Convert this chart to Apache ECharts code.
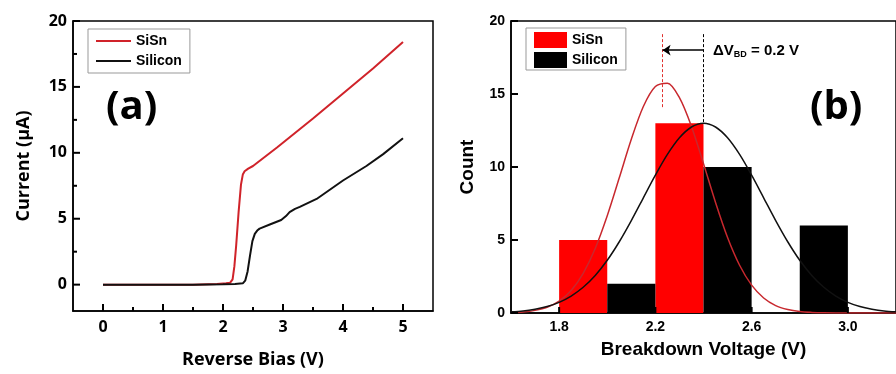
<!DOCTYPE html>
<html>
<head>
<meta charset="utf-8">
<script src="https://cdn.jsdelivr.net/npm/echarts@6/dist/echarts.min.js"></script>
<style>
  html, body { margin: 0; padding: 0; background: #fff; }
  #chart { width: 896px; height: 374px; }
</style>
</head>
<body>
<div id="chart"></div>
<script>
// (a) I-V curves
const sisnBias = [0, 0.5, 1.0, 1.5, 1.9, 2.05, 2.12, 2.16, 2.19, 2.22, 2.26, 2.3, 2.33, 2.36, 2.42, 2.5, 2.9, 3.5, 4.0, 4.5, 5.0];
const sisnCurrent = [0, 0, 0, 0, 0.05, 0.1, 0.15, 0.4, 1.4, 3.0, 5.5, 7.6, 8.35, 8.6, 8.8, 9.0, 10.4, 12.6, 14.5, 16.4, 18.4];
const siliconBias = [0, 0.5, 1.0, 1.5, 2.0, 2.2, 2.33, 2.37, 2.41, 2.45, 2.49, 2.53, 2.57, 2.61, 2.78, 2.97, 3.05, 3.11, 3.2, 3.28, 3.56, 4.0, 4.39, 4.67, 5.0];
const siliconCurrent = [0, 0, 0, 0, 0.02, 0.05, 0.1, 0.3, 1.0, 2.2, 3.3, 3.85, 4.1, 4.25, 4.56, 4.9, 5.2, 5.5, 5.75, 5.9, 6.5, 7.9, 9.0, 9.9, 11.1];
const biasTicks = [0, 1, 2, 3, 4, 5];
const biasMinor = [0.5, 1.5, 2.5, 3.5, 4.5];
const currentTicks = [0, 5, 10, 15, 20];
const currentMinor = [2.5, 7.5, 12.5, 17.5];

// (b) breakdown histogram + gaussian fits
const binWidth = 0.2;
const sisnBins = [1.8, 2.2];
const sisnCounts = [5, 13];
const siliconBins = [2.0, 2.4, 2.8];
const siliconCounts = [2, 10, 6];
const fitVoltage = [1.6, 1.65, 1.7, 1.75, 1.8, 1.85, 1.9, 1.95, 2.0, 2.05, 2.1, 2.15, 2.2, 2.25, 2.3, 2.35, 2.4,
  2.45, 2.5, 2.55, 2.6, 2.65, 2.7, 2.75, 2.8, 2.85, 2.9, 2.95, 3.0, 3.05, 3.1, 3.15, 3.2];
const sisnFit = [0.03, 0.07, 0.18, 0.39, 0.81, 1.54, 2.72, 4.42, 6.66, 9.26, 11.9, 14.14, 15.51, 15.74, 14.75, 12.78, 10.23,
  7.57, 5.17, 3.27, 1.91, 1.03, 0.51, 0.24, 0.1, 0.04, 0.01, 0, 0, 0, 0, 0, 0];
const siliconFit = [0.08, 0.14, 0.26, 0.44, 0.73, 1.16, 1.76, 2.57, 3.61, 4.88, 6.33, 7.89, 9.44, 10.86, 12.0, 12.74, 13.0,
  12.74, 12.0, 10.86, 9.44, 7.89, 6.33, 4.88, 3.61, 2.57, 1.76, 1.16, 0.73, 0.44, 0.26, 0.14, 0.08];
const voltageTicks = [1.8, 2.2, 2.6, 3.0];
const countTicks = [0, 5, 10, 15, 20];
const peakSiSn = 2.23;
const peakSilicon = 2.40;
const dashTop = 19.1;
const arrowY = 18;

const openSans = 'Open Sans';
const arial = 'Liberation Sans, Arial';

const chart = echarts.init(document.getElementById('chart'));

function zip(xs, ys) {
  return xs.map((x, i) => [x, ys[i]]);
}

function bins(starts, counts) {
  return starts.map((s, i) => [s, s + binWidth, counts[i]]);
}

function renderBar(params, api) {
  const p0 = api.coord([api.value(0), api.value(2)]);
  const p1 = api.coord([api.value(1), 0]);
  return {
    type: 'rect',
    shape: { x: p0[0], y: p0[1], width: p1[0] - p0[0], height: p1[1] - p0[1] },
    style: { fill: api.visual('color') }
  };
}

// inward tick marks, placed through the axis scales
function tickSeries(xi, yi, data, dir, len) {
  return {
    type: 'custom', name: 'ticks', xAxisIndex: xi, yAxisIndex: yi,
    clip: false, silent: true, z: 10,
    encode: { x: 0, y: 1 },
    data: data,
    renderItem: (params, api) => {
      const p = api.coord([api.value(0), api.value(1)]);
      return {
        type: 'rect',
        shape: dir === 'x'
          ? { x: p[0] - 1, y: p[1] - len, width: 2, height: len }
          : { x: p[0], y: p[1] - 1, width: len, height: 2 },
        style: { fill: '#000' }
      };
    }
  };
}

function lineStyle() {
  return { color: '#000', width: 1.5 };
}

const option = {
  animation: false,
  backgroundColor: '#fff',
  grid: [
    { left: 73, right: 463, top: 21, bottom: 61, show: true, borderColor: '#000', borderWidth: 1.5 },
    { left: 511, right: -4, top: 21, bottom: 61, show: true, borderColor: '#000', borderWidth: 1.5 }
  ],
  xAxis: [
    {
      gridIndex: 0, type: 'value', min: -0.5, max: 5.5, position: 'bottom',
      name: 'Reverse Bias (V)', nameLocation: 'middle', nameGap: 40,
      nameTextStyle: { fontFamily: openSans, fontWeight: 'bold', fontSize: 18, color: '#000' },
      axisLine: { onZero: false, lineStyle: lineStyle() },
      axisTick: { show: false },
      axisLabel: { customValues: biasTicks, margin: 8, fontFamily: openSans, fontWeight: 'bold', fontSize: 16, color: '#000' },
      splitLine: { show: false }
    },
    {
      gridIndex: 1, type: 'value', min: 1.6, max: 3.2, position: 'bottom',
      name: 'Breakdown Voltage (V)', nameLocation: 'middle', nameGap: 27,
      nameTextStyle: { fontFamily: arial, fontWeight: 'bold', fontSize: 19, color: '#000' },
      axisLine: { onZero: false, lineStyle: lineStyle() },
      axisTick: { show: false },
      axisLabel: {
        customValues: voltageTicks, margin: 7, fontFamily: arial, fontWeight: 'bold', fontSize: 14, color: '#000',
        formatter: v => v.toFixed(1)
      },
      splitLine: { show: false }
    }
  ],
  yAxis: [
    {
      gridIndex: 0, type: 'value', min: -2, max: 20, position: 'left',
      name: 'Current (\u03bcA)', nameLocation: 'middle', nameGap: 40,
      nameTextStyle: { fontFamily: openSans, fontWeight: 'bold', fontSize: 18, color: '#000' },
      axisLine: { onZero: false, lineStyle: lineStyle() },
      axisTick: { show: false },
      axisLabel: { customValues: currentTicks, margin: 6, fontFamily: openSans, fontWeight: 'bold', fontSize: 16, color: '#000' },
      splitLine: { show: false }
    },
    {
      gridIndex: 1, type: 'value', min: 0, max: 20, interval: 5, position: 'left',
      name: 'Count', nameLocation: 'middle', nameGap: 34,
      nameTextStyle: { fontFamily: arial, fontWeight: 'bold', fontSize: 19, color: '#000' },
      axisLine: { onZero: false, lineStyle: lineStyle() },
      axisTick: { show: false },
      axisLabel: { margin: 6, fontFamily: arial, fontWeight: 'bold', fontSize: 14, color: '#000' },
      splitLine: { show: false }
    }
  ],
  legend: [
    {
      left: 88, top: 29, orient: 'vertical',
      data: [
        { name: 'SiSn', icon: 'rect', itemStyle: { color: '#d0232a' } },
        { name: 'Silicon', icon: 'rect', itemStyle: { color: '#111' } }
      ],
      itemWidth: 35, itemHeight: 2, itemGap: 4,
      padding: [4, 8, 4, 8],
      borderColor: '#999', borderWidth: 1,
      selectedMode: false,
      textStyle: { fontFamily: arial, fontWeight: 'bold', fontSize: 14, color: '#000', lineHeight: 16 }
    },
    {
      left: 526, top: 28, orient: 'vertical',
      data: [
        { name: 'SiSn', icon: 'rect', itemStyle: { color: '#ff0000' } },
        { name: 'Silicon', icon: 'rect', itemStyle: { color: '#000000' } }
      ],
      itemWidth: 33, itemHeight: 16, itemGap: 4,
      padding: [4, 8, 2, 8],
      borderColor: '#999', borderWidth: 1,
      selectedMode: false,
      textStyle: { fontFamily: arial, fontWeight: 'bold', fontSize: 14, color: '#000' }
    }
  ],
  graphic: [
    {
      type: 'text', left: 106, top: 88,
      style: { text: '(a)', fontFamily: openSans, fontWeight: 'bold', fontSize: 40, fill: '#000' }
    },
    {
      type: 'text', left: 810, top: 88,
      style: { text: '(b)', fontFamily: openSans, fontWeight: 'bold', fontSize: 40, fill: '#000' }
    },
    {
      type: 'text', x: 713, y: 51,
      style: {
        text: '{a|\u0394V}{b|BD}{a| = 0.2 V}',
        verticalAlign: 'middle',
        rich: {
          a: { fontFamily: arial, fontWeight: 'bold', fontSize: 15, fill: '#000' },
          b: { fontFamily: arial, fontWeight: 'bold', fontSize: 9, fill: '#000', padding: [8, 0, 0, 0] }
        }
      }
    }
  ],
  series: [
    {
      name: 'SiSn', type: 'line', xAxisIndex: 0, yAxisIndex: 0,
      data: zip(sisnBias, sisnCurrent),
      symbol: 'none', smooth: false,
      lineStyle: { color: '#d0232a', width: 2 },
      itemStyle: { color: '#d0232a' }
    },
    {
      name: 'Silicon', type: 'line', xAxisIndex: 0, yAxisIndex: 0,
      data: zip(siliconBias, siliconCurrent),
      symbol: 'none', smooth: false,
      lineStyle: { color: '#111', width: 2 },
      itemStyle: { color: '#111' }
    },
    {
      name: 'SiSn', type: 'custom', xAxisIndex: 1, yAxisIndex: 1,
      renderItem: renderBar,
      itemStyle: { color: '#ff0000' },
      encode: { x: [0, 1], y: 2 },
      data: bins(sisnBins, sisnCounts)
    },
    {
      name: 'SiSn fit', type: 'line', xAxisIndex: 1, yAxisIndex: 1,
      data: zip(fitVoltage, sisnFit),
      symbol: 'none', smooth: 0.3,
      lineStyle: { color: '#c8282e', width: 1.5 },
      markLine: {
        silent: true, animation: false,
        label: { show: false },
        symbol: 'none',
        data: [
          [
            { coord: [peakSiSn, dashTop], lineStyle: { color: '#e0302e', type: [3, 2], width: 1 } },
            { coord: [peakSiSn, 14] }
          ],
          [
            { coord: [peakSilicon, dashTop], lineStyle: { color: '#000', type: [3, 2], width: 1 } },
            { coord: [peakSilicon, 13] }
          ],
          [
            { coord: [peakSilicon, arrowY], symbol: 'none', lineStyle: { color: '#000', type: 'solid', width: 1.5 } },
            { coord: [peakSiSn, arrowY], symbol: 'arrow', symbolSize: 8 }
          ]
        ]
      }
    },
    {
      name: 'Silicon', type: 'custom', xAxisIndex: 1, yAxisIndex: 1,
      renderItem: renderBar,
      itemStyle: { color: '#000000' },
      encode: { x: [0, 1], y: 2 },
      data: bins(siliconBins, siliconCounts)
    },
    {
      name: 'Silicon fit', type: 'line', xAxisIndex: 1, yAxisIndex: 1,
      data: zip(fitVoltage, siliconFit),
      symbol: 'none', smooth: 0.3,
      lineStyle: { color: '#111', width: 1.5 }
    },
    tickSeries(0, 0, biasTicks.map(v => [v, -2]), 'x', 7),
    tickSeries(0, 0, biasMinor.map(v => [v, -2]), 'x', 4),
    tickSeries(0, 0, currentTicks.map(v => [-0.5, v]), 'y', 7),
    tickSeries(0, 0, currentMinor.map(v => [-0.5, v]), 'y', 4),
    tickSeries(1, 1, voltageTicks.map(v => [v, 0]), 'x', 6),
    tickSeries(1, 1, countTicks.map(v => [1.6, v]), 'y', 7)
  ]
};

chart.setOption(option);
</script>
</body>
</html>
